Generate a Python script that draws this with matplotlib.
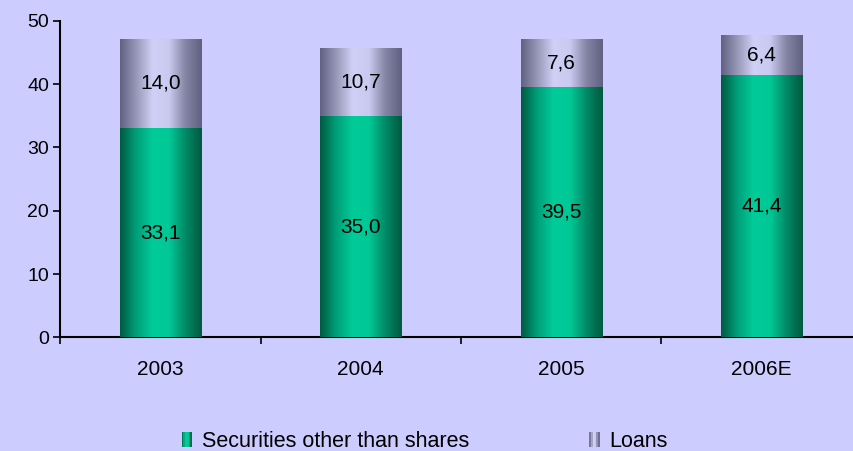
import numpy as np
import matplotlib.pyplot as plt
from matplotlib.colors import LinearSegmentedColormap
from matplotlib.legend_handler import HandlerBase
from matplotlib.patches import Rectangle

plt.rcParams['font.family'] = ['Liberation Sans', 'DejaVu Sans']

years = ['2003', '2004', '2005', '2006E']
securities = [33.1, 35.0, 39.5, 41.4]
loans = [14.0, 10.7, 7.6, 6.4]
series_names = ['Securities other than shares', 'Loans']

bg = '#CCCCFF'
green_cmap = LinearSegmentedColormap.from_list(
    'green_cyl', ['#005A40', '#00A07A', '#00CC99', '#00C896', '#008A66', '#005A40'])
grey_cmap = LinearSegmentedColormap.from_list(
    'grey_cyl', ['#606080', '#9898B8', '#D0D0F6', '#CACAF0', '#8484A4', '#606080'])


def shade_bars(ax, bars, cmap):
    # horizontal gradient clipped to each bar to give a cylinder look
    grad = np.linspace(0, 1, 256).reshape(1, -1)
    for b in bars:
        x0, y0 = b.get_x(), b.get_y()
        w, h = b.get_width(), b.get_height()
        im = ax.imshow(grad, cmap=cmap, aspect='auto', interpolation='bicubic',
                       extent=(x0, x0 + w, y0, y0 + h), zorder=3)
        im.set_clip_path(b)
        b.set_facecolor('none')


class GradientHandler(HandlerBase):
    def __init__(self, cmap):
        super().__init__()
        self.cmap = cmap

    def create_artists(self, legend, orig_handle, xdescent, ydescent,
                       width, height, fontsize, trans):
        n = 6
        sw = width / n
        arts = []
        for i in range(n):
            r = Rectangle((i * sw, -ydescent), sw, height,
                          facecolor=self.cmap((i + 0.5) / n), edgecolor='none',
                          transform=trans)
            arts.append(r)
        return arts


fig = plt.figure(figsize=(8.54, 4.51), dpi=100)
fig.patch.set_facecolor(bg)
ax = fig.add_axes([0.0703, 0.2517, 0.939, 0.7025])
ax.set_facecolor(bg)

x = np.arange(len(years)) + 0.5
w = 0.405
b1 = ax.bar(x, securities, w, color='#00CC99', zorder=2)
b2 = ax.bar(x, loans, w, bottom=securities, color='#B0B0D8', zorder=2)
ax.set_xlim(0, len(years))
ax.set_ylim(0, 50)
shade_bars(ax, b1, green_cmap)
shade_bars(ax, b2, grey_cmap)

for xi, s, l in zip(x, securities, loans):
    ax.text(xi, s / 2, f'{s:.1f}'.replace('.', ','), ha='center', va='center',
            fontsize=15, color='black', zorder=5)
    ax.text(xi, s + l / 2, f'{l:.1f}'.replace('.', ','), ha='center', va='center',
            fontsize=15, color='black', zorder=5)

for sp in ['top', 'right']:
    ax.spines[sp].set_visible(False)
for sp in ['left', 'bottom']:
    ax.spines[sp].set_linewidth(1.5)
    ax.spines[sp].set_color('black')

ax.set_yticks(range(0, 51, 10))
ax.tick_params(axis='y', direction='out', length=5, width=1.2, labelsize=14, pad=3)
ax.set_xticks(range(len(years) + 1))
ax.set_xticklabels([])
ax.set_xticks(x, minor=True)
ax.set_xticklabels(years, minor=True)
ax.tick_params(axis='x', which='major', direction='out', length=5, width=1.2)
ax.tick_params(axis='x', which='minor', length=0, labelsize=15, pad=16)

h1 = Rectangle((0, 0), 1, 1)
h2 = Rectangle((0, 0), 1, 1)
leg = fig.legend([h1, h2], series_names, loc='lower left', ncol=2,
                 bbox_to_anchor=(0.190, -0.045), frameon=False, fontsize=15.5,
                 handlelength=0.48, handleheight=0.75, handletextpad=0.45,
                 columnspacing=5.6,
                 handler_map={h1: GradientHandler(green_cmap),
                              h2: GradientHandler(grey_cmap)})

fig.savefig('out.png', dpi=100, facecolor=bg)
